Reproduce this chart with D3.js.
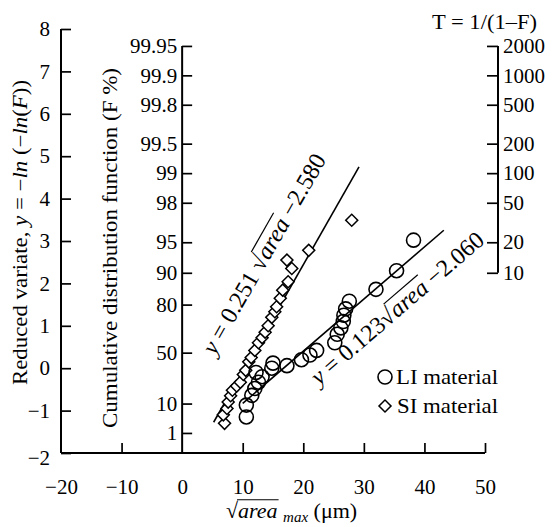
<!DOCTYPE html>
<html>
<head>
<meta charset="utf-8">
<script src="https://cdn.jsdelivr.net/npm/d3@7"></script>
<style>
  body { margin: 0; background: #fff; }
</style>
</head>
<body>
<div id="chart"></div>
<script>
"use strict";

// sqrt(area_max) [um] and reduced variate y for the two materials
const li_x = [10.6, 10.6, 11.5, 12.0, 12.6, 13.2, 12.2, 14.8, 15.0, 17.3, 19.7, 21.1, 22.2, 25.2, 25.6, 26.2, 26.6, 26.7, 27.0, 27.6, 32.0, 35.4, 38.2];
const li_y = [-1.15, -0.87, -0.64, -0.48, -0.33, -0.2, -0.1, 0.0, 0.12, 0.06, 0.2, 0.31, 0.42, 0.6, 0.8, 0.95, 1.1, 1.25, 1.4, 1.58, 1.86, 2.3, 3.02];

const si_x = [7.0, 6.8, 7.4, 7.6, 8.0, 8.3, 9.0, 9.6, 10.1, 10.5, 11.0, 11.4, 12.0, 12.6, 13.2, 13.7, 14.2, 14.8, 15.3, 15.6, 16.2, 16.6, 17.5, 18.1, 17.3, 20.9, 28.0];
const si_y = [-1.3, -1.1, -0.95, -0.8, -0.65, -0.52, -0.42, -0.33, -0.15, -0.05, 0.15, 0.25, 0.42, 0.6, 0.72, 0.85, 1.0, 1.2, 1.33, 1.45, 1.65, 1.84, 2.04, 2.35, 2.55, 2.78, 3.49];

// fitted lines  y = a * sqrt(area) + b, drawn over [x0, x1]
const si_fit = {a: 0.251, b: -2.580, x0: 5.2, x1: 29.2};
const li_fit = {a: 0.123, b: -2.060, x0: 10.0, x1: 43.2};

// tick labels
const x_ticks = [-20, -10, 0, 10, 20, 30, 40, 50];
const y_ticks = [-2, -1, 0, 1, 2, 3, 4, 5, 6, 7, 8];
const f_ticks = ["99.95", "99.9", "99.8", "99.5", "99", "98", "95", "90", "80", "50", "10", "1"];
const t_ticks = ["2000", "1000", "500", "200", "100", "50", "20", "10"];

const width = 552, height = 527;
const font_serif = "'Liberation Serif', 'Times New Roman', 'DejaVu Serif', serif";
const font_size = 21;

const svg = d3.select("#chart").append("svg")
    .attr("width", width)
    .attr("height", height)
    .attr("font-family", font_serif)
    .attr("fill", "#000");

const x = d3.scaleLinear([-20, 50], [61, 485]);
const y = d3.scaleLinear([-2, 8], [453, 29]);

// Gumbel reduced variate from cumulative probability
const gumbel = F => -Math.log(-Math.log(F));
const fromF = s => gumbel(+s / 100);
const fromT = s => gumbel(1 - 1 / +s);

function style_axis(g) {
    g.attr("font-family", font_serif).attr("font-size", font_size);
    g.selectAll(".tick line").attr("stroke", "#000").attr("stroke-width", 1.7);
    g.selectAll(".tick text").attr("font-family", font_serif).attr("font-size", font_size);
    g.select(".domain").attr("stroke-width", 2);
}

// text with a radical sign: "<pre>√area<post>", overline drawn from the radical over "area"
function radical_text(g, fs, pre, post, area_fs) {
    const t = g.append("text").attr("font-size", fs);
    pre.forEach(([s, it]) => t.append("tspan").attr("font-style", it ? "italic" : null).text(s));
    const before = t.text().length;
    t.append("tspan").text("\u221A");
    t.append("tspan").attr("font-style", "italic").text("area");
    post.forEach(([s, it, sub]) => {
        const sp = t.append("tspan").attr("font-style", it ? "italic" : null).text(s);
        if (sub) sp.attr("font-size", sub).attr("dy", 4);
        else if (sp.node().previousSibling && sp.node().previousSibling.getAttribute("dy")) sp.attr("dy", -4);
    });
    const node = t.node();
    const x0 = node.getEndPositionOfChar(before).x - 1;
    const x1 = node.getEndPositionOfChar(before + 4).x + 1;
    const yy = -0.83 * fs;
    g.append("line")
        .attr("x1", x0).attr("x2", x1)
        .attr("y1", yy).attr("y2", yy)
        .attr("stroke", "#000").attr("stroke-width", 1.2);
    return t;
}

// left axis: reduced variate
svg.append("g")
    .attr("transform", `translate(${x(-20)},0)`)
    .call(d3.axisLeft(y).tickValues(y_ticks).tickSizeInner(-10).tickSizeOuter(0).tickPadding(11)
        .tickFormat(d3.format("d")))
    .call(style_axis)
    .call(g => g.select(".domain").attr("d", `M0,${y(8)}V${y(-2)}`))
    .call(g => g.selectAll(".tick").filter(d => d === -2).select("text").attr("dy", "0.55em"));

// middle axis: cumulative distribution F %
const gF = svg.append("g")
    .attr("transform", `translate(${x(0)},0)`)
    .call(d3.axisLeft(y).tickValues(f_ticks.map(fromF)).tickSizeInner(-10).tickSizeOuter(0).tickPadding(5)
        .tickFormat((d, i) => f_ticks[i]))
    .call(style_axis);
gF.select(".domain").attr("d", `M0,${y(fromF(f_ticks[0]))}V${y(-2)}`);

// right axis: return period T
const gT = svg.append("g")
    .attr("transform", `translate(498,0)`)
    .call(d3.axisRight(y).tickValues(t_ticks.map(fromT)).tickSizeInner(-11).tickSizeOuter(0).tickPadding(5)
        .tickFormat((d, i) => t_ticks[i]))
    .call(style_axis);
gT.select(".domain").attr("d", `M0,${y(fromT(t_ticks[0]))}V${y(fromT(t_ticks[t_ticks.length - 1]))}`);

svg.append("text")
    .attr("x", 432).attr("y", 29)
    .attr("font-size", font_size)
    .attr("textLength", 105)
    .attr("lengthAdjust", "spacingAndGlyphs")
    .text("T = 1/(1\u2013F)");

// bottom axis
svg.append("g")
    .attr("transform", `translate(0,${y(-2)})`)
    .call(d3.axisBottom(x).tickValues(x_ticks).tickSizeInner(-10).tickSizeOuter(0).tickPadding(26)
        .tickFormat(d3.format("d")))
    .call(style_axis)
    .call(g => g.select(".domain").attr("d", `M${x(-20)},0H${x(50)}`))
    .call(g => g.selectAll(".tick").filter(d => d === -20 || d === 0).select("line").remove());

// axis titles
const ylab = svg.append("text")
    .attr("transform", `translate(27,385) rotate(-90)`)
    .attr("font-size", 20)
    .attr("textLength", 305)
    .attr("lengthAdjust", "spacingAndGlyphs");
ylab.append("tspan").text("Reduced variate, ");
ylab.append("tspan").attr("font-style", "italic").text("y");
ylab.append("tspan").text(" = \u2212");
ylab.append("tspan").attr("font-style", "italic").text("ln");
ylab.append("tspan").text(" (\u2212");
ylab.append("tspan").attr("font-style", "italic").text("ln");
ylab.append("tspan").text("(");
ylab.append("tspan").attr("font-style", "italic").text("F");
ylab.append("tspan").text("))");

svg.append("text")
    .attr("transform", `translate(117,428) rotate(-90)`)
    .attr("font-size", 21)
    .attr("textLength", 360)
    .attr("lengthAdjust", "spacingAndGlyphs")
    .text("Cumulative  distribution function (F %)");

radical_text(svg.append("g").attr("transform", "translate(226,518)"), 22,
    [], [[" "], ["max", true, 15], [" (\u03BCm)"]]);

// fitted lines
const fit_line = f => [[f.x0, f.a * f.x0 + f.b], [f.x1, f.a * f.x1 + f.b]];
const line = d3.line().x(d => x(d[0])).y(d => y(d[1]));
svg.append("g")
    .selectAll("path")
    .data([si_fit, li_fit])
    .join("path")
    .attr("d", d => line(fit_line(d)))
    .attr("fill", "none")
    .attr("stroke", "#000")
    .attr("stroke-width", 1.6);

// markers
const diamond = d3.symbol(d3.symbolSquare, 72);
svg.append("g")
    .selectAll("path")
    .data(d3.zip(si_x, si_y))
    .join("path")
    .attr("transform", d => `translate(${x(d[0])},${y(d[1])}) rotate(45)`)
    .attr("d", diamond())
    .attr("fill", "#fff")
    .attr("stroke", "#000")
    .attr("stroke-width", 1.5);

svg.append("g")
    .selectAll("circle")
    .data(d3.zip(li_x, li_y))
    .join("circle")
    .attr("cx", d => x(d[0]))
    .attr("cy", d => y(d[1]))
    .attr("r", 7)
    .attr("fill", "none")
    .attr("stroke", "#000")
    .attr("stroke-width", 1.6);

// equation labels, rotated along their fit lines
function fit_label(f, px, py, coef, gap) {
    const p = fit_line(f);
    const ang = Math.atan2(y(p[1][1]) - y(p[0][1]), x(p[1][0]) - x(p[0][0])) * 180 / Math.PI;
    const g = svg.append("g").attr("transform", `translate(${px},${py}) rotate(${ang})`);
    radical_text(g, 24, [["y", true], [` = ${coef}${gap}`]], [[` \u2212${Math.abs(f.b).toFixed(3)}`]]);
}
fit_label(si_fit, 215, 356, si_fit.a, " ");
fit_label(li_fit, 319, 386, li_fit.a, "");

// legend
const legend = svg.append("g");
legend.append("circle")
    .attr("cx", 385).attr("cy", 377).attr("r", 7)
    .attr("fill", "none").attr("stroke", "#000").attr("stroke-width", 1.6);
legend.append("text")
    .attr("x", 396).attr("y", 384)
    .attr("font-size", font_size)
    .attr("textLength", 102)
    .attr("lengthAdjust", "spacingAndGlyphs")
    .text("LI material");
legend.append("path")
    .attr("transform", "translate(385,406) rotate(45)")
    .attr("d", diamond())
    .attr("fill", "#fff").attr("stroke", "#000").attr("stroke-width", 1.5);
legend.append("text")
    .attr("x", 397).attr("y", 413)
    .attr("font-size", font_size)
    .attr("textLength", 101)
    .attr("lengthAdjust", "spacingAndGlyphs")
    .text("SI material");
</script>
</body>
</html>
